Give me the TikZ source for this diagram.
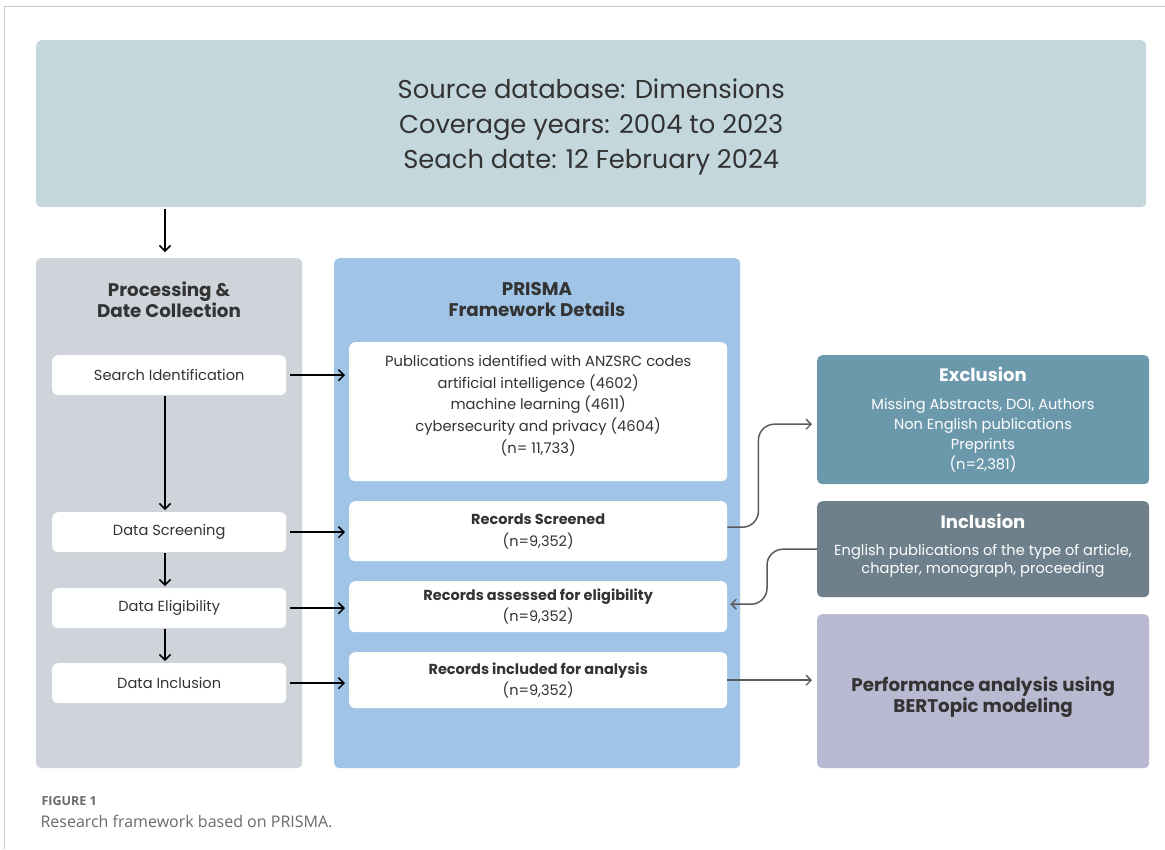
\documentclass[tikz,border=0pt]{standalone}
\usepackage{fontspec}
\setmainfont{Poppins}
\newfontfamily\capfont{Open Sans}
\usetikzlibrary{arrows.meta}
\definecolor{topc}{HTML}{C4D7DD}
\definecolor{leftc}{HTML}{CED4D9}
\definecolor{bluec}{HTML}{A0C4E6}
\definecolor{exclc}{HTML}{6C98AB}
\definecolor{inclc}{HTML}{6E808B}
\definecolor{perfc}{HTML}{B9B9D1}
\definecolor{txt}{HTML}{333333}
\definecolor{conc}{HTML}{5A5A5A}
\definecolor{framec}{HTML}{C8C8C8}
\definecolor{capc}{HTML}{6A6A6A}
\tikzset{
  panel/.style={rounded corners=5pt, draw=none, inner sep=0pt},
  wbox/.style={rounded corners=6pt, fill=white, draw=none, inner sep=0pt, text=txt, align=center},
  arr/.style={line width=1.7pt, black, -{Straight Barb[length=5.5pt,width=11pt,line width=1.5pt]}},
  conn/.style={line width=1.5pt, conc, -{Straight Barb[length=5pt,width=10pt,line width=1.3pt]}},
}
\begin{document}
\begin{tikzpicture}[x=1pt,y=-1pt]
\useasboundingbox (0,0) rectangle (1165,849);
\fill[white] (0,0) rectangle (1165,849);
% frame
\draw[framec, line width=1pt] (4,849) -- (4,6) -- (1165,6);
% top box
\node[panel, fill=topc, minimum width=1110pt, minimum height=167pt, anchor=north west] (src) at (36,40) {};
\node[text=txt, align=center, font=\fontsize{25.8}{35}\selectfont] (srct) at ([yshift=-3pt]src.center)
  {Source database: Dimensions\\Coverage years: 2004 to 2023\\Seach date: 12 February 2024};
% panels
\node[panel, fill=leftc, minimum width=266pt, minimum height=510pt, anchor=north west] (lp) at (36,258) {};
\node[panel, fill=bluec, minimum width=406pt, minimum height=510pt, anchor=north west] (bp) at (334,258) {};
\node[text=txt, align=center, font=\fontsize{18.3}{21}\selectfont\bfseries] (lpt) at (169,299.5) {Processing \&\\Date Collection};
\node[text=txt, align=center, font=\fontsize{18.3}{21}\selectfont\bfseries] (bpt) at (537,299.5) {PRISMA\\Framework Details};
\coordinate (axis) at (165,0);
\draw[arr] ([yshift=-2pt]src.south -| axis) -- ([yshift=6pt]lp.north -| axis);
% left boxes
\tikzset{lbox/.style={wbox, minimum width=234pt, minimum height=40pt, font=\fontsize{14.6}{18}\selectfont}}
\node[lbox, anchor=north west] (si) at (52,355) {Search Identification};
\node[lbox, anchor=north west] (ds) at (52,512) {Data Screening};
\node[lbox, anchor=north west] (de) at (52,588) {Data Eligibility};
\node[lbox, anchor=north west] (di) at (52,663) {Data Inclusion};
\draw[arr] ([yshift=-1pt]si.south -| axis) -- ([yshift=2pt]ds.north -| axis);
\draw[arr] ([yshift=-1pt]ds.south -| axis) -- ([yshift=2pt]de.north -| axis);
\draw[arr] ([yshift=-1pt]de.south -| axis) -- ([yshift=2pt]di.north -| axis);
% blue boxes
\tikzset{bbox/.style={wbox, minimum width=378pt, font=\fontsize{14.7}{21.7}\selectfont}}
\node[bbox, minimum height=139pt, anchor=north west] (pi) at (349,342) {};
\node[text=txt, align=center, font=\fontsize{14.7}{21.7}\selectfont] (pit) at ([yshift=6pt]pi.center)
  {Publications identified with ANZSRC codes\\artificial intelligence (4602)\\machine learning (4611)\\cybersecurity and privacy (4604)\\(n= 11,733)};
\node[bbox, minimum height=60pt, anchor=north west, font=\fontsize{14.5}{22}\selectfont] (rs) at (349,501)
  {{\bfseries Records Screened}\\(n=9,352)};
\node[bbox, minimum height=51pt, anchor=north west, font=\fontsize{14.5}{21}\selectfont] (re) at (349,581)
  {{\bfseries Records assessed for eligibility}\\(n=9,352)};
\node[bbox, minimum height=56pt, anchor=north west, font=\fontsize{14.5}{21}\selectfont] (ri) at (349,652)
  {{\bfseries Records included for analysis}\\(n=9,352)};
\draw[arr] ([xshift=4pt]si.east) -- ([xshift=-4pt]si.east -| pi.west);
\draw[arr] ([xshift=4pt]ds.east) -- ([xshift=-4pt]ds.east -| rs.west);
\draw[arr] ([xshift=4pt]de.east) -- ([xshift=-4pt]de.east -| re.west);
\draw[arr] ([xshift=4pt]di.east) -- ([xshift=-4pt]di.east -| ri.west);
% right boxes
\node[panel, fill=exclc, minimum width=332pt, minimum height=129pt, anchor=north west] (ex) at (817,355) {};
\node[text=white, font=\fontsize{18}{20}\selectfont\bfseries] (ext) at (983,374) {Exclusion};
\node[text=white, align=center, font=\fontsize{14.6}{20}\selectfont, anchor=north] (exb) at (983,395)
  {Missing Abstracts, DOI, Authors\\Non English publications\\Preprints\\(n=2,381)};
\node[panel, fill=inclc, minimum width=332pt, minimum height=96pt, anchor=north west] (in) at (817,501) {};
\node[text=white, font=\fontsize{18}{20}\selectfont\bfseries] (int) at (983,521) {Inclusion};
\node[text=white, align=center, font=\fontsize{14.6}{18}\selectfont, anchor=north] (inb) at (983,541)
  {English publications of the type of article,\\chapter, monograph, proceeding};
\node[panel, fill=perfc, minimum width=332pt, minimum height=154pt, anchor=north west] (pf) at (817,614) {};
\node[text=txt, align=center, font=\fontsize{18.3}{21}\selectfont\bfseries] (pft) at ([yshift=-6pt]pf.center)
  {Performance analysis using\\BERTopic modeling};
% connectors
\draw[conn, rounded corners=16pt] ([yshift=4pt]rs.east) -- ++(31,0) |- ([xshift=-5pt,yshift=-4.5pt]ex.west);
\draw[conn, rounded corners=16pt] (in.west) -- ++(-50,0) |- ([xshift=3pt,yshift=2.5pt]re.east);
\draw[conn] (ri.east) -- ([xshift=-5pt]ri.east -| pf.west);
% caption
\node[text=capc, anchor=west, font=\capfont\fontsize{12.5}{14}\selectfont\bfseries] (cap1) at (38,801) {FIGURE 1};
\node[text=capc, anchor=west, font=\capfont\fontsize{16}{18}\selectfont] (cap2) at (37,821) {Research framework based on PRISMA.};
\end{tikzpicture}
\end{document}
